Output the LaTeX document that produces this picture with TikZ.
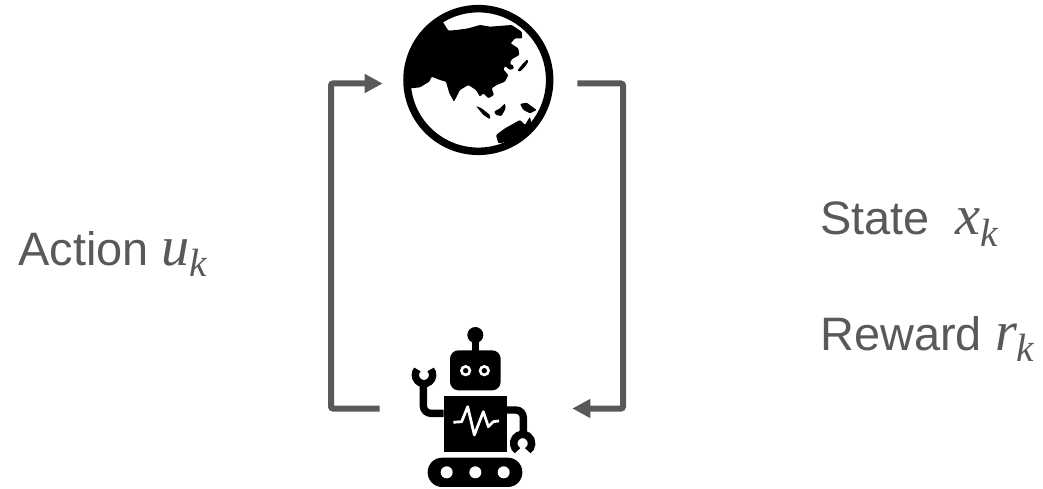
\documentclass[tikz,border=0pt]{standalone}
\usepackage{fix-cm}
\usepackage{fontspec}
\setmainfont{Liberation Sans}
\newfontfamily\varfont{Liberation Serif}[NFSSFamily=varserif,Scale=1.2]
\DeclareMathAlphabet{\mvar}{TU}{varserif}{m}{it}
\usepackage{tikz}
\usetikzlibrary{arrows.meta}
\definecolor{flowgray}{HTML}{595959}
\tikzset{
flow/.style={draw=flowgray,line width=.12cm,rounded corners=.04cm,-{Triangle[length=.36cm,width=.36cm]}},
lab/.style={anchor=base west,inner sep=0,text=flowgray,font=\fontsize{26.7}{32}\selectfont},
anchorbox/.style={inner sep=0,minimum height=.1cm},
icon/.style={shift={(#1)},x=.006667cm,y=-.006667cm}
}
\begin{document}
\begin{tikzpicture}[x=.02cm,y=-.02cm]
\useasboundingbox(0,0)rectangle(1043,489);
% world
\begin{scope}[icon={390,0},rounded corners=.02cm]
\fill(160,68)--(175,92)--(200,90)--(235,85)--(270,75)--(300,80)--(365,75)--(395,95)--(397,115)--(375,115)--(362,130)--(385,145)--(388,165)--(365,178)--(360,190)--(372,205)--(360,210)--(345,198)--(340,208)--(355,225)--(345,245)--(320,255)--(305,265)--(312,285)--(295,295)--(280,280)--(270,290)--(258,270)--(235,255)--(210,270)--(192,305)--(178,280)--(168,245)--(150,240)--(125,230)--(118,245)--(90,262)--(62,265)--(45,240)--(60,160)--(100,95)--(150,55)--cycle;
\fill(382,212)--(395,195)--(412,178)--(415,185)--(405,200)--(390,215)--cycle;
\fill(358,198)--(366,192)--(372,203)--(366,208)--cycle;
\fill(258,318)--(275,325)--(300,345)--(300,358)--(280,345)--cycle;
\fill(312,335)--(330,325)--(345,310)--(347,325)--(335,348)--(318,345)--cycle;
\fill(390,312)--(410,308)--(440,330)--(420,340)--(400,330)--cycle;
\fill(318,405)--(345,385)--(390,360)--(405,375)--(420,350)--(425,375)--(390,410)--(355,425)--(325,430)--cycle;
\draw[line width=.15cm](265,240)circle(214);
\end{scope}
% agent
\begin{scope}[icon={395,315}]
\fill(241,60)circle(24);
\draw[line width=.147cm](241,60)--(241,110);
\fill[rounded corners=.17cm](165,106)rectangle(317,226);
\fill[white](212,167)circle(17)(268,167)circle(17);
\fill(212,167)circle(8)(268,167)circle(8);
\fill(146,243)rectangle(336,410);
\draw[line width=.147cm,rounded corners=.15cm](146,295)--(85,295)--(85,205);
\draw[line width=.147cm,rounded corners=.15cm](336,285)--(385,285)--(385,355);
\draw[line width=.147cm](87,180)++(-40:26)arc[start angle=-40,end angle=220,radius=26];
\draw[line width=.15cm](383,385)++(125:27)arc[start angle=125,end angle=415,radius=27];
\fill[rounded corners=.29cm](98,428)rectangle(382,516);
\fill[white](155,472)circle(18)(241,472)circle(18)(326,472)circle(18);
\draw[white,line width=.055cm,line join=round](175,322)--(200,320)--(218,275)--(238,360)--(265,290)--(280,335)--(295,320)--(312,318);
\end{scope}
\node[anchorbox,minimum width=3.88cm](world)at(480,83.5){};
\node[anchorbox,minimum width=3.84cm](agent)at(476,408.5){};
\coordinate(leftside)at(331,245);
\coordinate(rightside)at(623,245);
\draw[flow](agent.west)-|(leftside)|-(world.west);
\draw[flow](world.east)-|(rightside)|-(agent.east);
\node[lab](action)at(18,265){Action $\mvar{u}_{\mvar{k}}$};
\node[lab](state)at(820,235){State\ \ $\mvar{x}_{\mvar{k}}$};
\node[lab](reward)at(820,350){Reward $\mvar{r}_{\mvar{k}}$};
\end{tikzpicture}
\end{document}
